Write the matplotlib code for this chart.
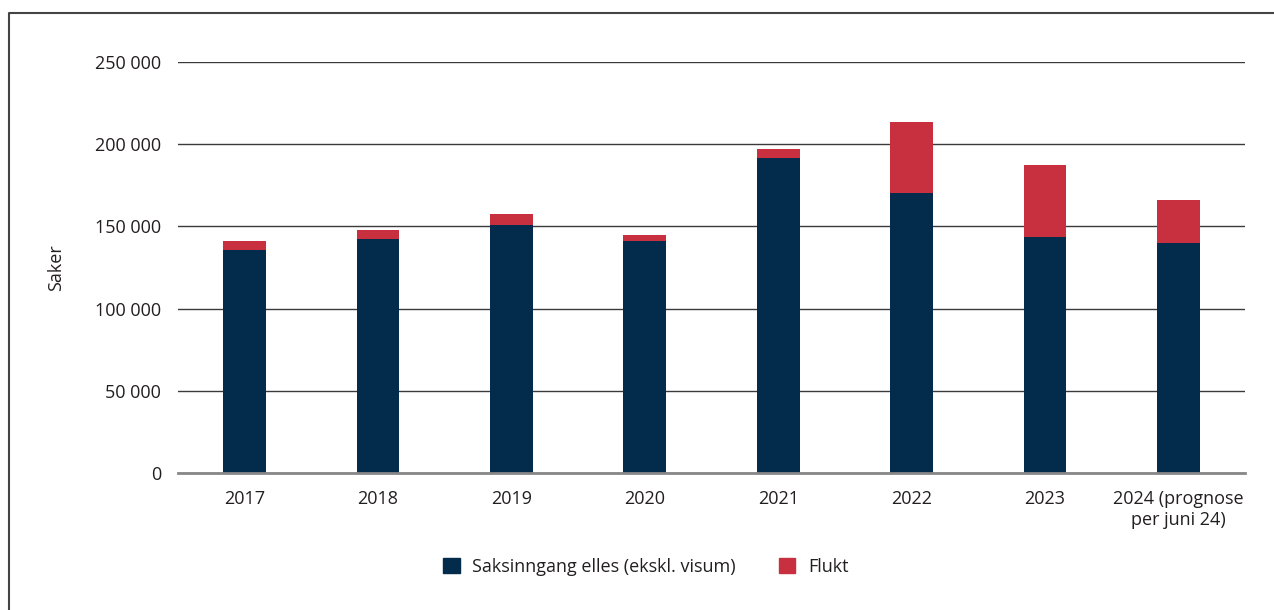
import matplotlib
matplotlib.use("Agg")
import matplotlib.pyplot as plt
from matplotlib.patches import Patch
from matplotlib.lines import Line2D
import numpy as np

# Data
years = ["2017", "2018", "2019", "2020", "2021", "2022", "2023", "2024 (prognose\nper juni 24)"]
saksinngang = [135500, 142200, 151000, 141200, 191500, 170300, 143300, 140000]
flukt_top = [141000, 147900, 157500, 144700, 197200, 213800, 187200, 165900]
flukt = [t - s for t, s in zip(flukt_top, saksinngang)]

navy = "#022B4C"
red = "#C8303F"
text_col = "#231F20"

plt.rcParams["font.family"] = ["Open Sans", "DejaVu Sans"]
fs = 13

fig = plt.figure(figsize=(12.74, 6.10), dpi=100)
ax = fig.add_axes([178 / 1274, 1 - 473 / 610, (1245 - 178) / 1274, (473 - 62) / 610])

x = np.arange(len(years))
ax.bar(x, saksinngang, width=0.32, color=navy, zorder=3)
ax.bar(x, flukt, bottom=saksinngang, width=0.32, color=red, zorder=3)

ax.set_xlim(-0.5, len(years) - 0.5)
ax.set_ylim(0, 250000)
ax.set_yticks(range(0, 250001, 50000))
ax.set_yticklabels([f"{v:,}".replace(",", " ") for v in range(0, 250001, 50000)])
ax.yaxis.grid(True, color="#3a3a3a", linewidth=1.0, zorder=0)
ax.set_xticks(x)
ax.set_xticklabels(years, linespacing=1.25)

for s in ["top", "right", "left"]:
    ax.spines[s].set_visible(False)
ax.spines["bottom"].set_color("#888888")
ax.spines["bottom"].set_linewidth(2)
ax.spines["bottom"].set_zorder(4)

ax.tick_params(axis="both", length=0, labelsize=fs, labelcolor=text_col)
ax.tick_params(axis="y", pad=12)
ax.tick_params(axis="x", pad=12)

ax.set_ylabel("Saker", fontsize=fs, color=text_col, labelpad=22)

handles = [Patch(color=navy, label="Saksinngang elles (ekskl. visum)"),
           Patch(color=red, label="Flukt")]
fig.legend(handles=handles, loc="center", bbox_to_anchor=(0.507, 1 - 567 / 610),
           ncol=2, frameon=False, fontsize=fs, handlelength=0.9, handleheight=0.9,
           handletextpad=0.7, columnspacing=2.4, labelcolor=text_col)

# outer frame (left and top edges)
fig.add_artist(Line2D([8.5 / 1274, 8.5 / 1274, 1.0], [0, 1 - 12.5 / 610, 1 - 12.5 / 610],
                      transform=fig.transFigure, color="#444444", linewidth=1.5))

fig.savefig("out.png", dpi=100)
